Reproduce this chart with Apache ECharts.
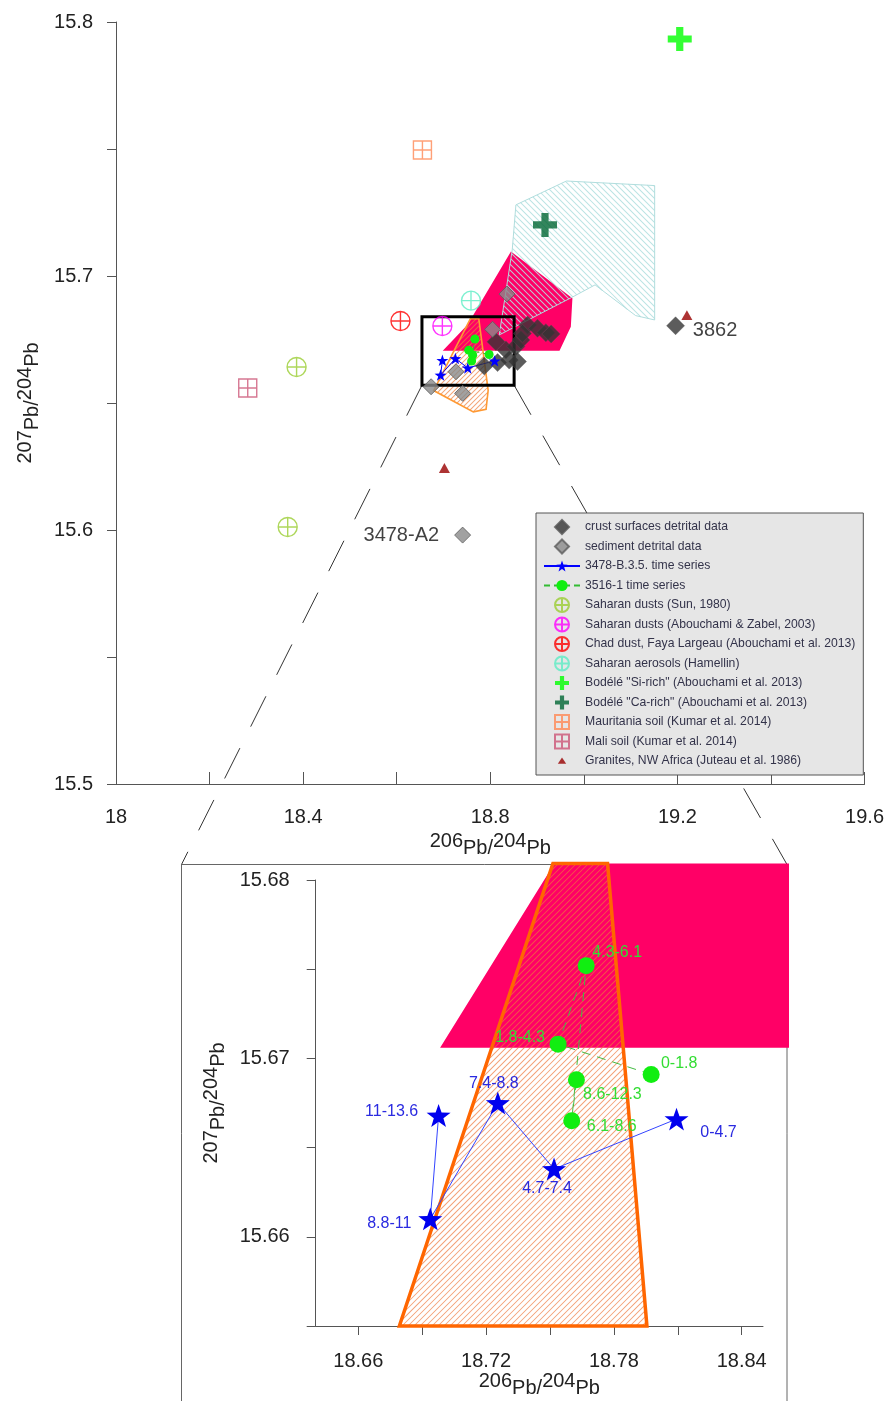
<!DOCTYPE html>
<html>
<head>
<meta charset="utf-8">
<title>Pb isotopes</title>
<script src="https://cdn.jsdelivr.net/npm/echarts@6/dist/echarts.min.js"></script>
<style>
  html, body { margin: 0; padding: 0; background: #fff; }
  #main { width: 887px; height: 1401px; }
</style>
</head>
<body>
<div id="main"></div>
<script>
// values: [206Pb/204Pb, 207Pb/204Pb]
const crustDetrital = [
  [19.1961, 15.6804], [18.7872, 15.6646], [18.8156, 15.6659], [18.8405, 15.6669],
  [18.8582, 15.6663], [18.8122, 15.6741], [18.8335, 15.6709], [18.8548, 15.6722],
  [18.8655, 15.6748], [18.8796, 15.6807], [18.9009, 15.6794], [18.9188, 15.6777],
  [18.8689, 15.6774], [18.9301, 15.6772]
];
const crustNames = ['3862'];
const sedimentDetrital = [
  [18.8356, 15.6929], [18.8049, 15.6790], [18.7268, 15.6623],
  [18.6735, 15.6564], [18.7409, 15.6538], [18.7409, 15.5980]
];
const sedimentNames = ['', '', '', '', '', '3478-A2'];

const series3478 = [[18.8094, 15.6666], [18.7519, 15.6638], [18.7255, 15.6675], [18.6938, 15.6610], [18.6977, 15.6668]];
const ages3478 = ['0-4.7', '4.7-7.4', '7.4-8.8', '8.8-11', '11-13.6'];
const series3516 = [[18.7975, 15.6691], [18.7538, 15.6708], [18.7670, 15.6752], [18.7602, 15.6665], [18.7624, 15.6688]];
const ages3516 = ['0-1.8', '1.8-4.3', '4.3-6.1', '6.1-8.6', '8.6-12.3'];

const saharanSun = [[18.386, 15.6642], [18.367, 15.6012]];
const saharanAbouchami = [[18.6976, 15.6803]];
const chadDust = [[18.608, 15.6823]];
const saharanAerosols = [[18.7588, 15.6903]];
const bodeleSi = [[19.205, 15.7933]];
const bodeleCa = [[18.917, 15.7201]];
const mauritaniaSoil = [[18.655, 15.7496]];
const maliSoil = [[18.2816, 15.6559]];
const granites = [[18.702, 15.6244], [19.2203, 15.6846]];

// outlined fields
const pinkField = [[18.6984, 15.6706], [18.7514, 15.6808], [18.8442, 15.7096], [18.9756, 15.6912], [18.9722, 15.6800], [18.948, 15.6706]];
const cyanField = [[18.8548, 15.7280], [18.9628, 15.7374], [19.1514, 15.7356], [19.1514, 15.6827], [19.1108, 15.6844],
  [19.024, 15.6965], [18.9756, 15.6917], [18.8192, 15.6768], [18.8469, 15.7102]];
const orangeField = [[18.7577, 15.6832], [18.7754, 15.6832], [18.7955, 15.655], [18.791, 15.6475], [18.7638, 15.6465], [18.679, 15.6549]];
const zoomBox = [[18.654, 15.657], [18.851, 15.684]];

// ticks
const mainXTicks = [18, 18.2, 18.4, 18.6, 18.8, 19, 19.2, 19.4, 19.6];
const mainXLabels = [18, 18.4, 18.8, 19.2, 19.6];
const mainYTicks = [15.5, 15.55, 15.6, 15.65, 15.7, 15.75, 15.8];
const mainYLabels = [15.5, 15.6, 15.7, 15.8];
const insetXTicks = [18.66, 18.69, 18.72, 18.75, 18.78, 18.81, 18.84];
const insetXLabels = [18.66, 18.72, 18.78, 18.84];
const insetYTicks = [15.655, 15.66, 15.665, 15.67, 15.675, 15.68];
const insetYLabels = [15.66, 15.67, 15.68];

// label placement in the inset (offset from marker centre, px)
const offsets3478 = [[42, 14], [-7, 20], [-4, -19], [-41, 5], [-47, -4]];
const offsets3516 = [[28, -11], [-38, -7], [31, -13], [40, 6], [36, 15]];

const names = [
  'crust surfaces detrital data', 'sediment detrital data', '3478-B.3.5. time series', '3516-1 time series',
  'Saharan dusts (Sun, 1980)', 'Saharan dusts (Abouchami & Zabel, 2003)', 'Chad dust, Faya Largeau (Abouchami et al. 2013)',
  'Saharan aerosols (Hamellin)', 'Bodélé "Si-rich" (Abouchami et al. 2013)', 'Bodélé "Ca-rich" (Abouchami et al. 2013)',
  'Mauritania soil (Kumar et al. 2014)', 'Mali soil (Kumar et al. 2014)', 'Granites, NW Africa (Juteau et al. 1986)'
];

const FONT = '"Liberation Sans", Arial, sans-serif';
const circleCross = 'path://M0,-10A10,10,0,1,1,0,10A10,10,0,1,1,0,-10ZM-10,0L10,0M0,-10L0,10';
const squareCross = 'path://M-10,-10L10,-10L10,10L-10,10ZM-10,0L10,0M0,-10L0,10';
const plus = 'path://M-3,-10L3,-10L3,-3L10,-3L10,3L3,3L3,10L-3,10L-3,3L-10,3L-10,-3L-3,-3Z';
const star = 'path://M0,-10L2.35,-3.24L9.51,-3.09L3.8,1.24L5.88,8.09L0,4L-5.88,8.09L-3.8,1.24L-9.51,-3.09L-2.35,-3.24Z';
const diamond = 'path://M0,-10L10,0L0,10L-10,0Z';
const triangle = 'path://M0,-10L10,8L-10,8Z';
const smallTriangle = 'path://M-10,-10M10,10M0,-5L6,4L-6,4Z';

// inset frame (page px)
const frame = { x1: 181.5, y1: 864.5, x2: 787, y2: 1460 };

function clipPoly(pts, r) {
  const edges = [
    [p => p[0] >= r.x1, (a, b) => [r.x1, a[1] + (r.x1 - a[0]) / (b[0] - a[0]) * (b[1] - a[1])]],
    [p => p[0] <= r.x2, (a, b) => [r.x2, a[1] + (r.x2 - a[0]) / (b[0] - a[0]) * (b[1] - a[1])]],
    [p => p[1] >= r.y1, (a, b) => [a[0] + (r.y1 - a[1]) / (b[1] - a[1]) * (b[0] - a[0]), r.y1]],
    [p => p[1] <= r.y2, (a, b) => [a[0] + (r.y2 - a[1]) / (b[1] - a[1]) * (b[0] - a[0]), r.y2]]
  ];
  let out = pts;
  edges.forEach(([inside, cut]) => {
    const inp = out;
    out = [];
    inp.forEach((cur, i) => {
      const prev = inp[(i + inp.length - 1) % inp.length];
      if (inside(cur)) {
        if (!inside(prev)) out.push(cut(prev, cur));
        out.push(cur);
      } else if (inside(prev)) {
        out.push(cut(prev, cur));
      }
    });
  });
  return out;
}

// diagonal hatch inside a pixel polygon, each stripe a thin filled quad
function hatchPath(pts, dir, step, w) {
  const f = dir === '/' ? p => p[0] + p[1] : p => p[0] - p[1];
  const vals = pts.map(f);
  const lo = Math.min(...vals), hi = Math.max(...vals);
  const h = w / 2 / Math.SQRT2;
  const n = dir === '/' ? [h, h] : [h, -h];
  const pt = (x, y) => x.toFixed(2) + ',' + y.toFixed(2);
  let d = '';
  for (let c = Math.ceil(lo / step) * step; c <= hi; c += step) {
    const xs = [];
    for (let i = 0; i < pts.length; i++) {
      const j = (i + 1) % pts.length;
      const fa = vals[i], fb = vals[j];
      if ((fa <= c && fb > c) || (fb <= c && fa > c)) {
        const t = (c - fa) / (fb - fa);
        xs.push([pts[i][0] + t * (pts[j][0] - pts[i][0]), pts[i][1] + t * (pts[j][1] - pts[i][1])]);
      }
    }
    xs.sort((p, q) => p[0] - q[0]);
    for (let k = 0; k + 1 < xs.length; k += 2) {
      const a = xs[k], b = xs[k + 1];
      d += 'M' + pt(a[0] + n[0], a[1] + n[1]) + 'L' + pt(b[0] + n[0], b[1] + n[1]) +
           'L' + pt(b[0] - n[0], b[1] - n[1]) + 'L' + pt(a[0] - n[0], a[1] - n[1]) + 'Z';
    }
  }
  return d;
}

function field(points, idx, st, z, clip) {
  return {
    type: 'custom', xAxisIndex: idx, yAxisIndex: idx, z: z, silent: true, clip: false,
    data: points,
    renderItem: (params, api) => {
      if (params.dataIndex !== 0) return;
      let pts = points.map(p => api.coord(p));
      if (clip) {
        const cs = params.coordSys;
        pts = clipPoly(pts, { x1: frame.x1, y1: frame.y1 - 1, x2: frame.x2 + 2, y2: cs.y + cs.height });
      }
      const children = [];
      if (st.fill) children.push({ type: 'polygon', shape: { points: pts }, style: { fill: st.fill, stroke: null } });
      if (st.hatch) {
        children.push({ type: 'path', shape: { pathData: hatchPath(pts, st.hatch.dir, st.hatch.step, 1) },
          style: { fill: st.hatch.color, stroke: null } });
      }
      if (st.stroke) children.push({ type: 'polygon', shape: { points: pts },
        style: { fill: null, stroke: st.stroke, lineWidth: st.lineWidth, lineJoin: 'miter' } });
      return { type: 'group', children: children };
    }
  };
}

function scatter(name, data, symbol, size, itemStyle, extra) {
  return Object.assign({
    name: name, type: 'scatter', xAxisIndex: 0, yAxisIndex: 0, z: 3,
    data: data, symbol: symbol, symbolSize: size, symbolKeepAspect: true, itemStyle: itemStyle
  }, extra || {});
}

const ringStyle = c => ({ color: 'rgba(255,255,255,0)', borderColor: c, borderWidth: 1.4 });

const titleRich = {
  n: { fontSize: 20, color: '#222', fontFamily: FONT, padding: [0, 0, 7, 0] },
  p: { fontSize: 20, color: '#222', fontFamily: FONT, padding: [7, 0, 0, 0] }
};
const titleX = '{n|206}{p|Pb/}{n|204}{p|Pb}';
const titleY = '{n|207}{p|Pb/}{n|204}{p|Pb}';

function valueAxis(grid, min, max, ticks, labels, tickInside, margin, opt) {
  return Object.assign({
    type: 'value', gridIndex: grid, min: min, max: max, scale: true,
    splitLine: { show: false },
    axisLine: { show: true, onZero: false, lineStyle: { color: '#555', width: 1 } },
    axisTick: { show: true, inside: tickInside, length: tickInside ? 12 : 9, customValues: ticks, lineStyle: { color: '#555' } },
    axisLabel: { customValues: labels, margin: margin, fontSize: 20, color: '#222', fontFamily: FONT },
    nameLocation: 'middle', nameTextStyle: { rich: titleRich }
  }, opt);
}

const chart = echarts.init(document.getElementById('main'));

const legendData = names.map((n, i) => (i === 12 ? { name: n, icon: smallTriangle } : n));

const option = {
  animation: false,
  textStyle: { fontFamily: FONT },
  grid: [
    { left: 116, right: 20, top: 22, bottom: 617 },
    { left: 315.7, right: 124, top: 880, bottom: 75 }
  ],
  xAxis: [
    valueAxis(0, 18, 19.6, mainXTicks, mainXLabels, true, 23, { name: titleX, nameGap: 46 }),
    valueAxis(1, 18.64, 18.85, insetXTicks, insetXLabels, false, 25, { name: titleX, nameGap: 44 })
  ],
  yAxis: [
    valueAxis(0, 15.5, 15.8, mainYTicks, mainYLabels, false, 23, { name: titleY, nameGap: 74, nameRotate: 90 }),
    valueAxis(1, 15.655, 15.68, insetYTicks, insetYLabels, false, 26, { name: titleY, nameGap: 86, nameRotate: 90 })
  ],
  legend: {
    data: legendData, orient: 'vertical', left: 536, top: 513,
    itemWidth: 36, itemHeight: 14, itemGap: 3.5, padding: [6, 8, 6, 7],
    backgroundColor: '#e6e6e6', borderColor: '#555', borderWidth: 1,
    selectedMode: false, z: 10,
    textStyle: { fontSize: 12.2, lineHeight: 16, color: '#33334a', fontFamily: FONT }
  },
  series: [
    field(pinkField, 0, { fill: '#ff0066' }, 1),
    field(cyanField, 0, { hatch: { color: 'rgba(178,224,224,0.9)', step: 6, dir: '\\' }, stroke: '#b0dddd', lineWidth: 1 }, 1),
    field(orangeField, 0, { hatch: { color: 'rgba(238,125,60,0.7)', step: 5, dir: '/' }, stroke: '#ff9933', lineWidth: 1.6 }, 1),
    {
      type: 'custom', xAxisIndex: 0, yAxisIndex: 0, z: 2, silent: true, data: [zoomBox],
      renderItem: (params, api) => {
        const a = api.coord(zoomBox[0]), b = api.coord(zoomBox[1]);
        return { type: 'rect', shape: { x: a[0], y: b[1], width: b[0] - a[0], height: a[1] - b[1] },
          style: { fill: null, stroke: '#000', lineWidth: 3 } };
      }
    },
    scatter(names[0], crustDetrital.map((p, i) => ({ value: p, name: crustNames[i] || '' })), diamond, 18,
      { color: '#333', borderColor: '#555', borderWidth: 0.5 },
      { label: { show: true, formatter: '{b}', position: 'right', distance: 8, offset: [0, 5], fontSize: 20, color: '#111' } }),
    scatter(names[1], sedimentDetrital.map((p, i) => ({ value: p, name: sedimentNames[i] || '' })), diamond, 16,
      { color: '#8a8a8a', borderColor: '#5c5c5c', borderWidth: 1 },
      { label: { show: true, formatter: '{b}', position: 'left', distance: 15, fontSize: 20, color: '#111' } }),
    {
      name: names[2], type: 'line', xAxisIndex: 0, yAxisIndex: 0, z: 3, data: series3478,
      symbol: star, symbolSize: 12, symbolKeepAspect: true,
      itemStyle: { color: '#0000ff' }, lineStyle: { color: '#0000ff', width: 1 }
    },
    {
      name: names[3], type: 'line', xAxisIndex: 0, yAxisIndex: 0, z: 3, data: series3516,
      symbol: 'circle', symbolSize: 9,
      itemStyle: { color: '#11ee11' }, lineStyle: { color: '#33bb33', width: 1, type: [6, 4] }
    },
    scatter(names[4], saharanSun, circleCross, 19, ringStyle('#9acd32')),
    scatter(names[5], saharanAbouchami, circleCross, 19, ringStyle('#ff00ff')),
    scatter(names[6], chadDust, circleCross, 19, ringStyle('#ff0000')),
    scatter(names[7], saharanAerosols, circleCross, 19, ringStyle('#5cecc4')),
    scatter(names[8], bodeleSi, plus, 24, { color: '#00ff00' }),
    scatter(names[9], bodeleCa, plus, 24, { color: '#006633' }),
    scatter(names[10], mauritaniaSoil, squareCross, 18, ringStyle('#ff8855')),
    scatter(names[11], maliSoil, squareCross, 18, ringStyle('#cc5577')),
    scatter(names[12], granites, triangle, 11, { color: '#990000' }),

    // inset
    field(pinkField, 1, { fill: '#ff0066' }, 1, true),
    field(orangeField, 1, { hatch: { color: 'rgba(238,120,60,0.7)', step: 6, dir: '/' }, stroke: '#ff6600', lineWidth: 3.5 }, 1, true),
    {
      name: names[2], type: 'line', xAxisIndex: 1, yAxisIndex: 1, z: 3, clip: false,
      data: series3478.map((p, i) => ({ value: p, name: ages3478[i], label: { offset: offsets3478[i] } })),
      symbol: star, symbolSize: 24, symbolKeepAspect: true,
      itemStyle: { color: '#0000ee' }, lineStyle: { color: '#3344ff', width: 1 },
      label: { show: true, position: 'inside', formatter: '{b}', fontSize: 16, color: '#2a2ae0' }
    },
    {
      name: names[3], type: 'line', xAxisIndex: 1, yAxisIndex: 1, z: 3, clip: false,
      data: series3516.map((p, i) => ({ value: p, name: ages3516[i], label: { offset: offsets3516[i] } })),
      symbol: 'circle', symbolSize: 17,
      itemStyle: { color: '#11ee11' }, lineStyle: { color: '#44bb44', width: 1, type: [9, 7] },
      label: { show: true, position: 'inside', formatter: '{b}', fontSize: 16, color: '#33dd33' }
    }
  ]
};

chart.setOption(option);

// connector lines from the zoom box to the inset frame
const bl = chart.convertToPixel({ xAxisIndex: 0, yAxisIndex: 0 }, [zoomBox[0][0], zoomBox[0][1]]);
const br = chart.convertToPixel({ xAxisIndex: 0, yAxisIndex: 0 }, [zoomBox[1][0], zoomBox[0][1]]);
chart.setOption({
  graphic: [
    { type: 'rect', z: 0, silent: true, shape: { x: frame.x1, y: frame.y1, width: frame.x2 - frame.x1, height: frame.y2 - frame.y1 },
      style: { fill: null, stroke: '#666', lineWidth: 1 } },
    { type: 'line', z: 0, silent: true, shape: { x1: bl[0], y1: bl[1], x2: frame.x1, y2: frame.y1 },
      style: { stroke: '#333', lineWidth: 1, lineDash: [34, 24] } },
    { type: 'line', z: 0, silent: true, shape: { x1: br[0], y1: br[1], x2: frame.x2, y2: frame.y1 },
      style: { stroke: '#333', lineWidth: 1, lineDash: [34, 24] } }
  ]
});
</script>
</body>
</html>
